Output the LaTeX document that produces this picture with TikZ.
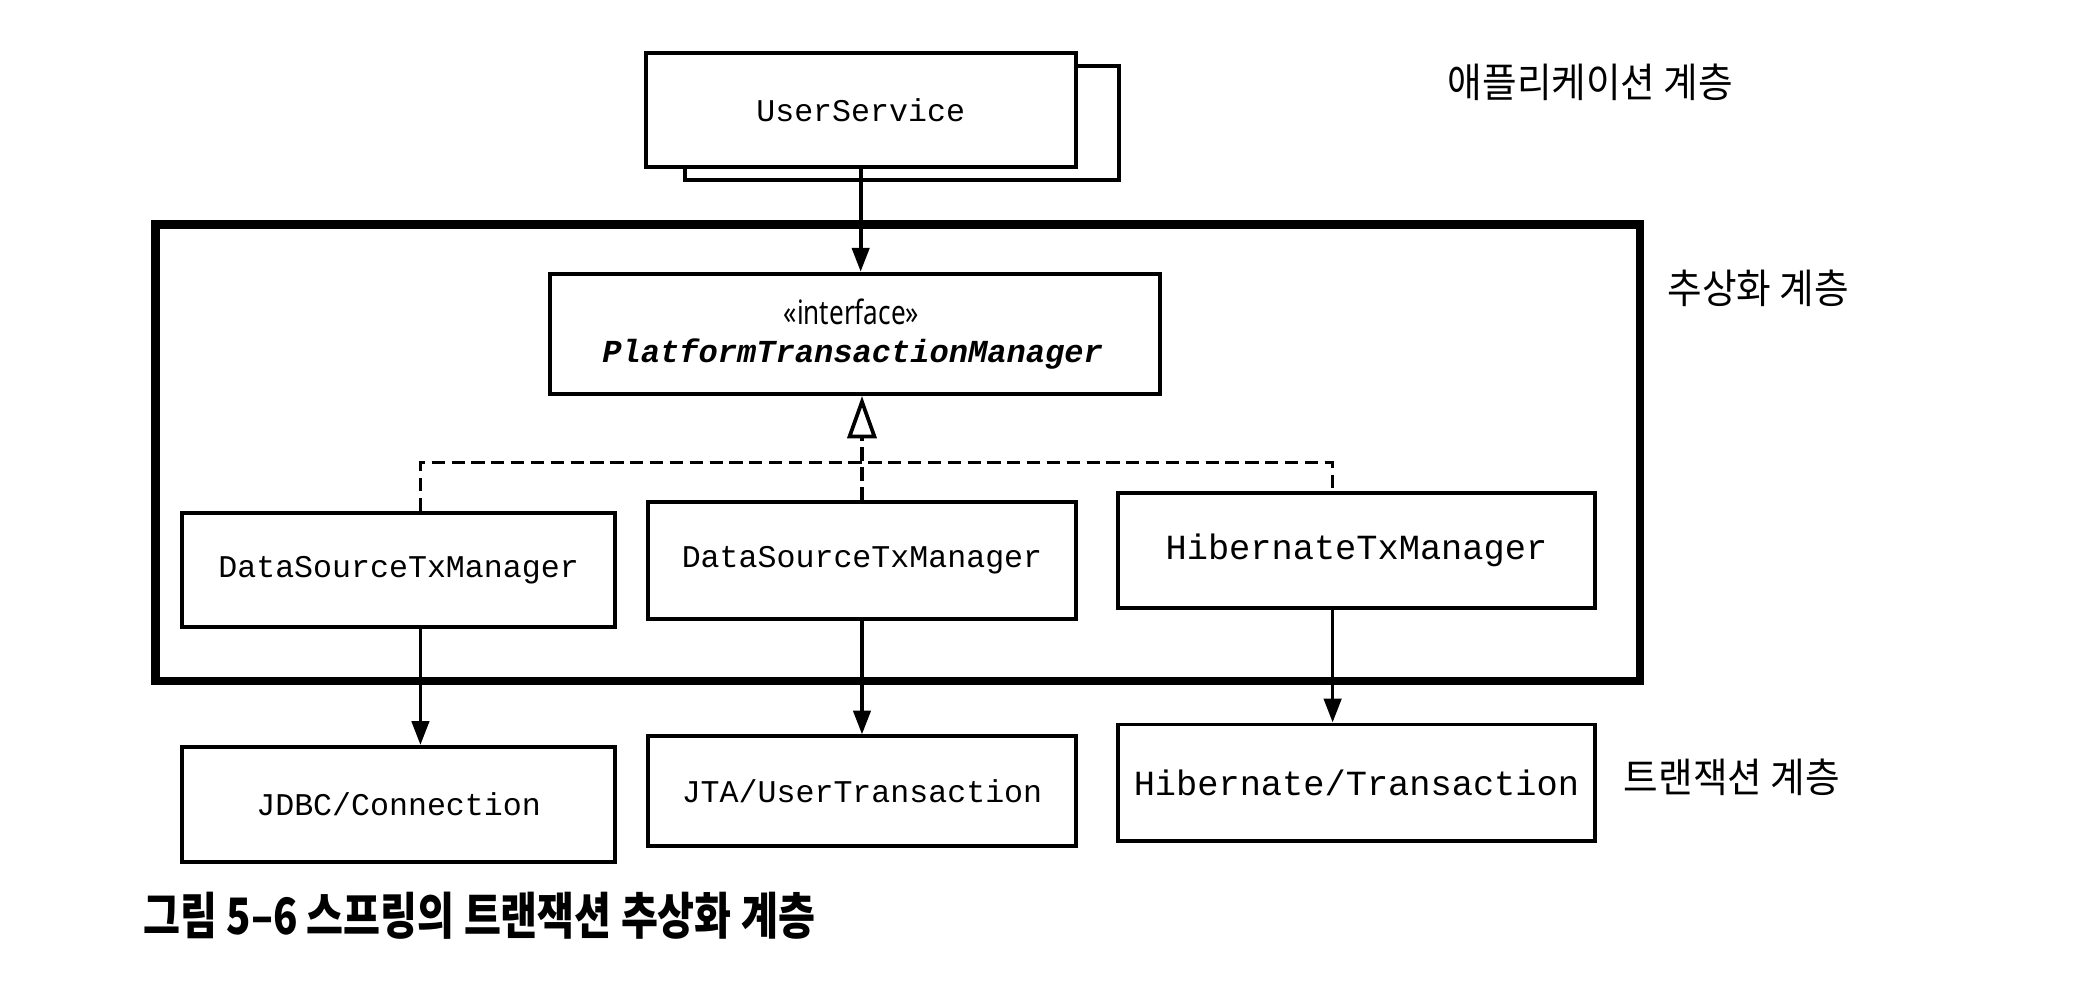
\documentclass[tikz,border=0pt]{standalone}
\usepackage{fontspec}
\usetikzlibrary{arrows.meta,calc}
\newfontfamily\monof{Liberation Mono}
\newfontfamily\sansf{Noto Sans}
\newfontfamily\korf{Noto Sans CJK KR}
\begin{document}
\begin{tikzpicture}[x=0.01cm,y=-0.01cm,
  box/.style={draw, line width=0.85pt, fill=white, inner sep=0pt},
  mono/.style={font=\monof\fontsize{6.8pt}{8pt}\selectfont},
  monob/.style={font=\monof\fontsize{7.6pt}{9pt}\selectfont},
  lab/.style={font=\korf\fontsize{8.7pt}{10pt}\selectfont, inner sep=0pt},
  arr/.style={line width=0.8pt, -{Triangle[length=0.18cm,width=0.13cm]}},
  dsh/.style={line width=0.75pt, dash pattern=on 0.1cm off 0.05cm},
  frame/.style={draw, line width=1.8pt, inner sep=0pt}]
\useasboundingbox (0,0) rectangle (1568,756);
\fill[white] (0,0) rectangle (1568,756);

% abstraction layer frame
\node[frame, minimum width=11.22cm, minimum height=3.45cm] (abs) at (679,342.5) {};

% application layer
\node[box, minimum width=3.28cm, minimum height=0.86cm] (usb) at (682,93) {};
\node[box, mono, minimum width=3.25cm, minimum height=0.86cm] (us) at (651,83) {UserService};

% interface
\node[box, minimum width=4.61cm, minimum height=0.91cm] (pif) at (647,252.5) {};
\node[font=\sansf\fontsize{7.2pt}{8pt}\selectfont, inner sep=0pt] (st) at (644,236) {\scalebox{0.78}[1]{«interface»}};
\node[font=\monof\bfseries\itshape\fontsize{6.9pt}{8pt}\selectfont, inner sep=0pt] (ptm) at (645,268) {PlatformTransactionManager};

% implementations
\node[box, mono, minimum width=3.27cm, minimum height=0.86cm] (b1) at (301.5,431) {DataSourceTxManager};
\node[box, mono, minimum width=3.23cm, minimum height=0.88cm] (b2) at (652,424) {DataSourceTxManager};
\node[box, monob, minimum width=3.60cm, minimum height=0.87cm] (b3) at (1026,416.5) {HibernateTxManager};

% transaction layer
\node[box, mono, minimum width=3.27cm, minimum height=0.87cm] (c1) at (301.5,608.5) {JDBC/Connection};
\node[box, mono, minimum width=3.23cm, minimum height=0.83cm] (c2) at (652,598.5) {JTA/UserTransaction};
\node[box, monob, minimum width=3.60cm, minimum height=0.88cm] (c3) at (1026,592) {Hibernate/Transaction};

% connectors
\draw[arr] (us.south) -- (us.south |- pif.north);
\coordinate (jn) at (652,350);
\draw[dsh] ([xshift=0.165cm]b1.north) |- ([xshift=-0.18cm]b3.north |- jn) -- ([xshift=-0.18cm]b3.north);
\draw[dsh, -{Triangle[open,length=0.32cm,width=0.22cm,fill=white,line width=0.8pt]}] (b2.north) -- (b2.north |- pif.south);
\draw[arr] ([xshift=0.165cm]b1.south) -- ([xshift=0.165cm]b1.south |- c1.north);
\draw[arr] (b2.south) -- (b2.south |- c2.north);
\draw[arr] ([xshift=-0.18cm]b3.south) -- ([xshift=-0.18cm]b3.south |- c3.north);

% layer labels
\node[lab] (l1) at (1203,62) {\scalebox{0.93}[1]{애플리케이션 계층}};
\node[lab] (l2) at (1330,218) {\scalebox{0.93}[1]{추상화 계층}};
\node[lab] (l3) at (1310,588) {\scalebox{0.93}[1]{트랜잭션 계층}};

% caption
\node[anchor=west, inner sep=0pt, font=\korf\bfseries\fontsize{10.8pt}{12pt}\selectfont] (cap) at (108,693) {\scalebox{0.8}[1]{그림 5–6 스프링의 트랜잭션 추상화 계층}};
\end{tikzpicture}
\end{document}
